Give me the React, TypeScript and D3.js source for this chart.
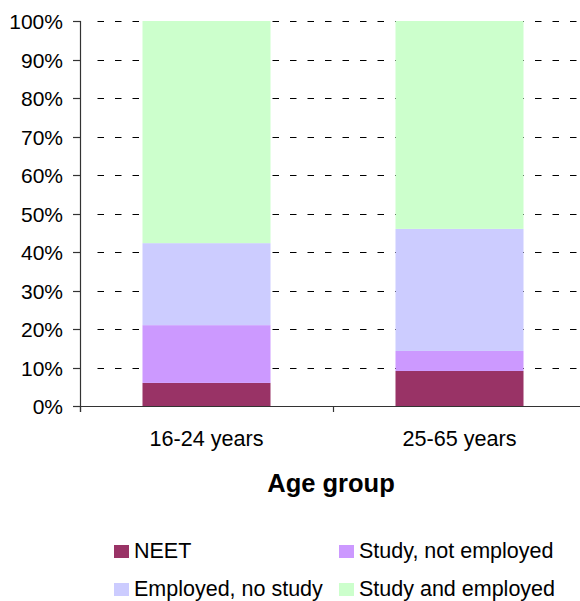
import React from "react";
import * as d3 from "d3";

const categories = ["16-24 years", "25-65 years"];
const seriesNames = ["NEET", "Study, not employed", "Employed, no study", "Study and employed"];
const neet = [6.0, 9.1];
const studyNotEmployed = [15.0, 5.2];
const employedNoStudy = [21.3, 31.7];
const studyAndEmployed = [57.7, 54.0];
const yTicks = [0, 10, 20, 30, 40, 50, 60, 70, 80, 90, 100];
const colors = ["#993366", "#CC99FF", "#CCCCFF", "#CCFFCC"];

const W = 580;
const H = 601;
const left = 80;
const right = 586;
const top = 21;
const bottom = 406;
const font = "Arial, 'Liberation Sans', sans-serif";

export default function App() {
  const x = d3.scaleBand<string>().domain(categories).range([left, right]).paddingInner(0.494).paddingOuter(0.247);
  const y = d3.scaleLinear().domain([0, 100]).range([bottom, top]);
  const rows = categories.map((c, i) => ({
    cat: c,
    s0: neet[i],
    s1: studyNotEmployed[i],
    s2: employedNoStudy[i],
    s3: studyAndEmployed[i],
  }));
  const stack = d3.stack<any>().keys(["s0", "s1", "s2", "s3"]);
  const layers = stack(rows);
  const step = x.step();
  const boundaries = [left, left + step, left + 2 * step];

  const legendItems = [
    { name: seriesNames[0], color: colors[0], lx: 114, ly: 545 },
    { name: seriesNames[1], color: colors[1], lx: 339, ly: 545 },
    { name: seriesNames[2], color: colors[2], lx: 114, ly: 583 },
    { name: seriesNames[3], color: colors[3], lx: 339, ly: 583 },
  ];

  return (
    <svg width={W} height={H} style={{ position: "absolute", left: 0, top: 0, background: "#fff" }}>
      {/* gridlines */}
      {yTicks.filter((t) => t > 0).map((t) => (
        <line key={"g" + t} x1={left + 17.5} x2={right} y1={Math.round(y(t)) + 0.5} y2={Math.round(y(t)) + 0.5}
          stroke="#000" strokeWidth={1} strokeDasharray="6.5 11" />
      ))}
      {/* bars */}
      {layers.map((layer, li) => (
        <g key={li} fill={colors[li]}>
          {layer.map((d, i) => (
            <rect key={i} x={x(categories[i])} width={x.bandwidth()} y={y(d[1])} height={y(d[0]) - y(d[1])} />
          ))}
        </g>
      ))}
      {/* axes */}
      <line x1={left + 0.5} x2={left + 0.5} y1={top} y2={bottom + 6} stroke="#333" strokeWidth={1.2} />
      <line x1={left} x2={right} y1={bottom + 0.5} y2={bottom + 0.5} stroke="#333" strokeWidth={1.2} />
      {yTicks.map((t) => (
        <g key={"t" + t}>
          <line x1={left - 7} x2={left + 1} y1={Math.round(y(t)) + 0.5} y2={Math.round(y(t)) + 0.5} stroke="#333" strokeWidth={1.2} />
          <text x={63} y={y(t) + 8} textAnchor="end" fontFamily={font} fontSize={21} fill="#000">{t}%</text>
        </g>
      ))}
      {boundaries.map((b, i) => (
        <line key={"xb" + i} x1={Math.round(b) + 0.5} x2={Math.round(b) + 0.5} y1={bottom} y2={bottom + 6} stroke="#333" strokeWidth={1.2} />
      ))}
      {categories.map((c) => (
        <text key={c} x={(x(c) as number) + x.bandwidth() / 2} y={446} textAnchor="middle" fontFamily={font} fontSize={21.6} fill="#000">{c}</text>
      ))}
      <text x={331} y={492} textAnchor="middle" fontFamily={font} fontSize={25.5} fontWeight="bold" fill="#000">Age group</text>
      {/* legend */}
      {legendItems.map((it) => (
        <g key={it.name}>
          <rect x={it.lx} y={it.ly} width={15} height={13} fill={it.color} />
          <text x={it.lx + 20} y={it.ly + 13} fontFamily={font} fontSize={21.5} fill="#000">{it.name}</text>
        </g>
      ))}
    </svg>
  );
}
